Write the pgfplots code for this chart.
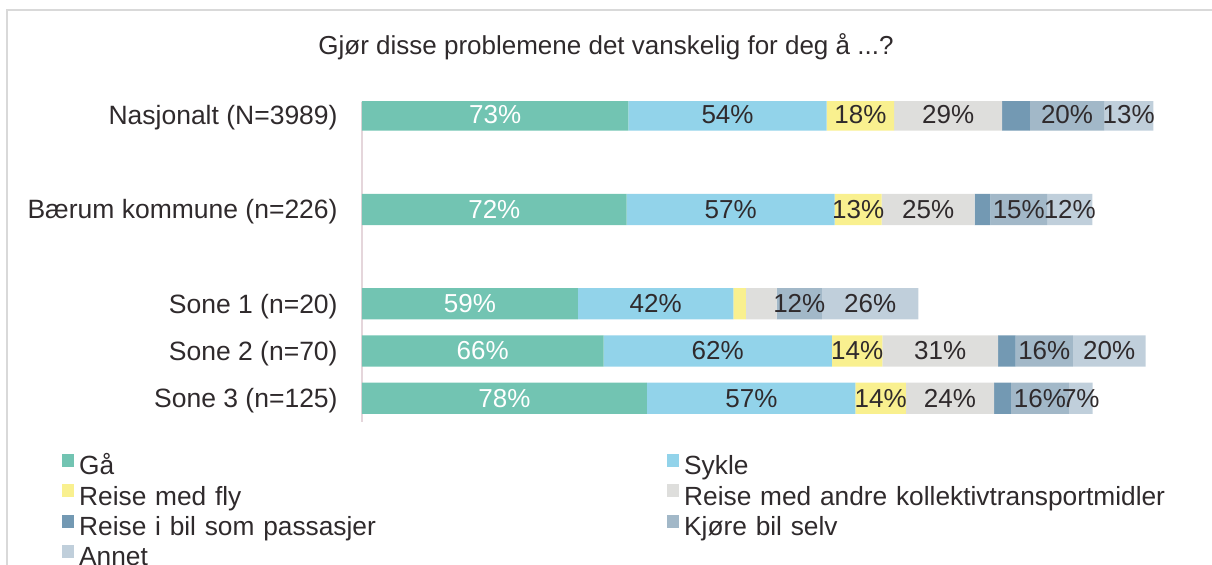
\documentclass[border=0pt]{standalone}
\usepackage{fontspec}
\setmainfont{Liberation Sans}
\usepackage{pgfplots}
\pgfplotsset{compat=1.18}
\definecolor{cGa}{HTML}{72C4B2}
\definecolor{cSykle}{HTML}{92D3EA}
\definecolor{cFly}{HTML}{F9F08F}
\definecolor{cKoll}{HTML}{DEDEDC}
\definecolor{cPass}{HTML}{7399B3}
\definecolor{cKjore}{HTML}{A2B8C8}
\definecolor{cAnnet}{HTML}{C0CFDB}
\definecolor{cText}{HTML}{2F2A2C}
\definecolor{cAxis}{HTML}{E5D6DB}
\definecolor{cFrame}{HTML}{D9D9D9}
\pgfplotsset{
  chartgeom/.style={
    at={(181pt,-50.75pt)}, anchor=north west,
    scale only axis, width=414pt, height=160.15pt,
    xmin=0, xmax=225.6, ymin=-0.286, ymax=6.5, y dir=reverse,
  },
}
\begin{document}
\fontsize{13}{15.6}\selectfont
\begin{tikzpicture}[font=\fontsize{13}{15.6}\selectfont]
\useasboundingbox (0,0) rectangle (606pt,-282pt);
\draw[cFrame, line width=1pt] (3.5pt,-290pt) -- (3.5pt,-5pt) -- (615pt,-5pt);
\node[text=cText] at (303pt,-23.5pt) {Gjør disse problemene det vanskelig for deg å ...?};
\begin{axis}[
  chartgeom,
  xbar stacked, bar width=15.6pt,
  axis x line=none,
  axis y line*=left,
  y axis line style={cAxis, line width=0.8pt, -},
  ytick={0,2,4,5,6},
  yticklabels={Nasjonalt (N=3989), Bærum kommune (n=226), Sone 1 (n=20), Sone 2 (n=70), Sone 3 (n=125)},
  major tick length=0pt,
  yticklabel style={text=cText, inner sep=0pt, xshift=-12pt, yshift=-1.2pt, font=\fontsize{13.25}{15.9}\selectfont},
  legend columns=2,
  legend cell align=left,
  legend style={at={(axis description cs:0,0)}, anchor=north west, xshift=-150pt, yshift=-16pt,
    draw=none, fill=none, inner sep=0pt, outer sep=0pt, row sep=2.1pt, column sep=0pt,
    font=\fontsize{13.15}{15.8}\selectfont,
    nodes={text=cText, inner sep=0pt, text height=9.3pt, text depth=2.7pt, text width=293.9pt, align=left},
    /tikz/every odd column/.style={column sep=2.4pt}},
  legend image code/.code={\fill[#1] (0pt,0.6pt) rectangle (6.2pt,7.1pt);},
]
\addplot[fill=cGa, draw=none] coordinates {(72.6,0) (72.1,2) (58.8,4) (65.8,5) (77.6,6)};
\addplot[fill=cSykle, draw=none] coordinates {(54.0,0) (56.7,2) (42.4,4) (62.2,5) (56.8,6)};
\addplot[fill=cFly, draw=none] coordinates {(18.4,0) (12.8,2) (3.4,4) (13.8,5) (13.8,6)};
\addplot[fill=cKoll, draw=none] coordinates {(29.4,0) (25.3,2) (8.4,4) (31.5,5) (24.0,6)};
\addplot[fill=cPass, draw=none] coordinates {(7.6,0) (4.3,2) (0,4) (4.8,5) (4.6,6)};
\addplot[fill=cKjore, draw=none] coordinates {(20.2,0) (15.5,2) (12.3,4) (15.6,5) (15.8,6)};
\addplot[fill=cAnnet, draw=none] coordinates {(13.4,0) (12.3,2) (26.3,4) (19.8,5) (6.5,6)};
\legend{Gå, Sykle, Reise med fly, Reise med andre kollektivtransportmidler, Reise i bil som passasjer, Kjøre bil selv, Annet}
\end{axis}
\begin{axis}[
  chartgeom, hide axis,
  point meta=explicit symbolic,
]
\addplot[only marks, mark=none, nodes near coords={\pgfplotspointmeta},
  every node near coord/.append style={text=white, anchor=center, inner sep=0pt, yshift=0pt}]
  coordinates {(36.3,0)[73\%] (36.05,2)[72\%] (29.4,4)[59\%] (32.9,5)[66\%] (38.8,6)[78\%]};
\addplot[only marks, mark=none, nodes near coords={\pgfplotspointmeta},
  every node near coord/.append style={text=cText, anchor=center, inner sep=0pt, yshift=0pt}]
  coordinates {
  (99.6,0)[54\%] (135.8,0)[18\%] (159.7,0)[29\%] (192.1,0)[20\%] (208.9,0)[13\%]
  (100.45,2)[57\%] (135.2,2)[13\%] (154.25,2)[25\%] (178.95,2)[15\%] (192.85,2)[12\%]
  (80.0,4)[42\%] (119.15,4)[12\%] (138.45,4)[26\%]
  (96.9,5)[62\%] (134.9,5)[14\%] (157.55,5)[31\%] (185.9,5)[16\%] (203.6,5)[20\%]
  (106.1,6)[57\%] (141.3,6)[14\%] (160.2,6)[24\%] (184.7,6)[16\%] (195.85,6)[7\%]
  };
\end{axis}
\end{tikzpicture}
\end{document}
